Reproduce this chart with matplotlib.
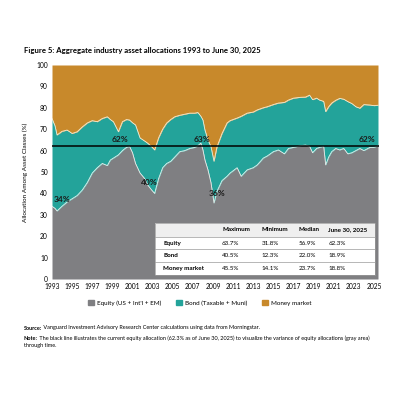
import numpy as np
import matplotlib.pyplot as plt
from matplotlib.patches import Rectangle, Patch

plt.rcParams['font.family'] = ['Lato', 'DejaVu Sans']

# fechas (año decimal) y asignaciones (%)
anios = [1993.0, 1993.3, 1993.5, 1994.0, 1994.5, 1995.0, 1995.5, 1996.0, 1996.5, 1997.0,
         1997.5, 1998.0, 1998.5, 1998.8, 1999.1, 1999.6, 2000.0, 2000.4, 2000.7, 2001.0,
         2001.3, 2001.75, 2002.2, 2002.5, 2002.9, 2003.2, 2003.6, 2004.0, 2004.4, 2004.8,
         2005.2, 2005.7, 2006.2, 2006.7, 2007.2, 2007.5, 2007.8, 2008.0, 2008.2, 2008.5,
         2008.8, 2009.1, 2009.4, 2009.9, 2010.4, 2010.7, 2011.4, 2011.8, 2012.4, 2013.0,
         2013.4, 2014.0, 2014.4, 2015.0, 2015.5, 2016.1, 2016.5, 2017.0, 2017.7, 2018.2,
         2018.6, 2018.9, 2019.3, 2019.6, 2020.0, 2020.2, 2020.5, 2020.8, 2021.2, 2021.6,
         2022.0, 2022.4, 2022.8, 2023.2, 2023.6, 2024.0, 2024.6, 2025.0, 2025.4]
acciones = [34, 33, 31.8, 34, 36, 37.5, 39, 41.5, 45, 49.5,
            52, 54, 53, 55.6, 56.5, 58, 60, 61.5, 62, 59,
            54, 49.5, 47, 44, 41.6, 40, 47, 52, 54, 55,
            57, 59.5, 60, 61, 61.5, 62.3, 63.5, 60.3, 55.6, 51,
            45, 35.5, 41, 46, 48, 49.5, 52, 48, 51, 52,
            53.3, 56.5, 57.5, 59.5, 60.3, 58.5, 61, 61.5, 62.3, 62.6,
            62, 59, 61, 61.5, 62, 53.3, 57, 59.5, 61, 60.3,
            61, 58.5, 59, 60, 61, 60, 61.5, 61.5, 62.3]
acc_mas_bonos = [75, 71.5, 67.3, 69, 69.6, 68, 68.8, 71, 72.9, 74,
                 73.5, 75, 75.8, 74.5, 73.5, 68.8, 73.5, 74.5, 74.3, 73,
                 72, 65.9, 64.5, 63.5, 61.8, 60.3, 66, 70, 72.9, 74.5,
                 75.8, 76.5, 77, 77.5, 77.5, 77.8, 76, 74.3, 69.6, 65,
                 61.8, 55, 61.8, 68, 72.9, 74, 75.2, 76, 77.5, 78,
                 79, 80, 80.5, 81.5, 82.2, 82.5, 83.6, 84.5, 84.9, 85,
                 85.9, 83.8, 84.5, 83.6, 83, 78.2, 80.5, 82.2, 83.5, 84.4,
                 84, 82.9, 82, 80.5, 79.8, 81.5, 81.3, 81, 81.2]
actual = 62.3

etiquetas = [('34%', 1994.0, 37), ('62%', 1999.8, 65), ('40%', 2002.7, 45.3),
             ('63%', 2007.9, 65), ('36%', 2009.4, 40), ('62%', 2024.3, 65)]

columnas = ['Maximum', 'Minimum', 'Median', 'June 30, 2025']
filas = ['Equity', 'Bond', 'Money market']
tabla = [['63.7%', '31.8%', '56.9%', '62.3%'],
         ['40.5%', '12.3%', '22.0%', '18.9%'],
         ['45.5%', '14.1%', '23.7%', '18.8%']]

gris = '#7f7f82'
verde = '#23a39a'
naranja = '#c8892b'

x = np.array(anios)
eq = np.array(acciones)
top = np.array(acc_mas_bonos)

fig = plt.figure(figsize=(4, 4), dpi=100)
ax = fig.add_axes([0.13, 0.3025, 0.8175, 0.535])

ax.fill_between(x, 0, eq, color=gris, lw=0)
ax.fill_between(x, eq, top, color=verde, lw=0)
ax.fill_between(x, top, 100, color=naranja, lw=0)
ax.plot(x, eq, color='#e8f2ee', lw=0.6)
ax.plot(x, top, color='#f3eed6', lw=0.6)
ax.axhline(actual, color='black', lw=1.1)

for txt, xx, yy in etiquetas:
    ax.text(xx, yy, txt, fontsize=6, fontweight='bold', color='#1a1a1a',
            ha='center', va='center')

ax.set_xlim(1993, 2025.5)
ax.set_ylim(0, 100)
ax.set_xticks(range(1993, 2026, 2))
ax.set_yticks(range(0, 101, 10))
ax.tick_params(length=0, labelsize=4.8, pad=3)
for s in ax.spines.values():
    s.set_visible(False)
ax.set_ylabel('Allocation Among Asset Classes (%)', fontsize=4.6, labelpad=6)

# tabla dentro del gráfico
x0, x1 = 0.315, 0.988
bordes = [0.262, 0.196, 0.140, 0.0794, 0.0187]
ax.add_patch(Rectangle((x0, bordes[1]), x1 - x0, bordes[0] - bordes[1],
                       transform=ax.transAxes, facecolor='#efefef', edgecolor='none'))
for i in range(3):
    ax.add_patch(Rectangle((x0, bordes[i + 2]), x1 - x0, bordes[i + 1] - bordes[i + 2],
                           transform=ax.transAxes, facecolor='white', edgecolor='none'))
for b in bordes[1:4]:
    ax.plot([x0, x1], [b, b], transform=ax.transAxes, color='#9a9a9a', lw=0.5)
ax.add_patch(Rectangle((x0, bordes[4]), x1 - x0, bordes[0] - bordes[4],
                       transform=ax.transAxes, facecolor='none', edgecolor='#9a9a9a', lw=0.5))

col_x = [0.52, 0.64, 0.755, 0.845]
for cx, c in zip(col_x, columnas):
    ax.text(cx, (bordes[0] + bordes[1]) / 2, c, transform=ax.transAxes, fontsize=4.5,
            fontweight='bold', va='center', ha='left')
for i, f in enumerate(filas):
    yc = (bordes[i + 1] + bordes[i + 2]) / 2
    ax.text(0.34, yc, f, transform=ax.transAxes, fontsize=4.5, fontweight='bold',
            va='center', ha='left')
    for cx, v in zip(col_x, tabla[i]):
        ax.text(cx, yc, v, transform=ax.transAxes, fontsize=4.5, va='center', ha='left')

fig.text(0.06, 0.873, 'Figure 5: Aggregate industry asset allocations 1993 to June 30, 2025',
         fontsize=5.6, fontweight='bold', va='center')

manejadores = [Patch(color=gris, label="Equity (US + Int'l + EM)"),
               Patch(color=verde, label='Bond (Taxable + Muni)'),
               Patch(color=naranja, label='Money market')]
fig.legend(handles=manejadores, loc='center', bbox_to_anchor=(0.5, 0.2425), ncol=3,
           frameon=False, fontsize=4.5, handlelength=0.9, handleheight=0.9,
           columnspacing=2.4, handletextpad=0.5)

t1 = fig.text(0.06, 0.18, 'Source:', fontsize=4.0, fontweight='bold', va='center')
ax.annotate(' Vanguard Investment Advisory Research Center calculations using data from Morningstar.',
            xy=(1, 0.5), xycoords=t1, va='center', ha='left', fontsize=4.0,
            annotation_clip=False)
t2 = fig.text(0.06, 0.155, 'Note:', fontsize=4.0, fontweight='bold', va='center')
ax.annotate(' The black line illustrates the current equity allocation (62.3% as of June 30, 2025) '
            'to visualize the variance of equity allocations (gray area)',
            xy=(1, 0.5), xycoords=t2, va='center', ha='left', fontsize=4.0,
            annotation_clip=False)
fig.text(0.06, 0.135, 'through time.', fontsize=4.0, va='center')

fig.savefig('out.png', dpi=100)
